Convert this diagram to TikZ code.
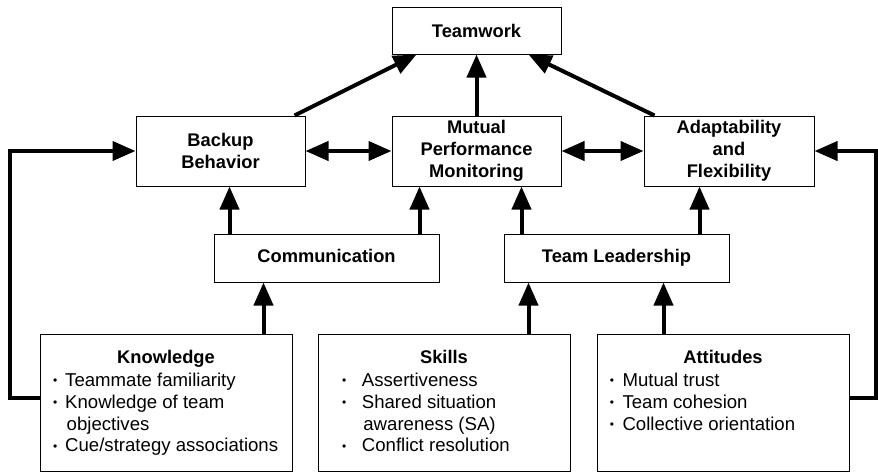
\documentclass[tikz,border=0pt]{standalone}
\usepackage{fontspec}
\setmainfont{Liberation Sans}
\usetikzlibrary{arrows.meta}
\newcommand\mybul{\raisebox{1.8pt}{\fontsize{12}{12}\selectfont •}}
\begin{document}
\begin{tikzpicture}[x=1pt,y=-1pt,
  box/.style={draw, line width=1pt, inner sep=0pt, align=center,
    font=\fontsize{18.3}{22}\selectfont\bfseries},
  onel/.style={text height=13.2pt, text depth=3.9pt},
  ttl/.style={anchor=base, inner sep=0pt, font=\fontsize{18.3}{22}\selectfont\bfseries},
  item/.style={anchor=base west, inner sep=0pt, align=left, font=\fontsize{18.6}{21.7}\selectfont},
  arr/.style={line width=4pt, -{Triangle[length=23pt,width=19pt]}},
  darr/.style={line width=4pt, {Triangle[length=23pt,width=19pt]}-{Triangle[length=23pt,width=19pt]}},
]
\useasboundingbox (0,0) rectangle (878,472);

% top boxes
\node[box, minimum width=169pt, minimum height=47pt] (tw) at (476.5,30.5) {Teamwork};
\node[box, minimum width=169pt, minimum height=70pt] (bb) at (220.5,151) {Backup\\Behavior};
\node[box, minimum width=169pt, minimum height=70pt] (mpm) at (476.5,151) {Mutual\\Performance\\Monitoring};
\node[box, minimum width=170pt, minimum height=70pt] (af) at (729,151) {Adaptability\\and\\Flexibility};
\node[box, onel, minimum width=225pt, minimum height=48pt] (com) at (326.5,258) {Communication};
\node[box, onel, minimum width=225pt, minimum height=48pt] (tl) at (616.5,258) {Team Leadership};

% bottom boxes
\node[box, minimum width=252pt, minimum height=137pt] (kn) at (166,402.5) {};
\node[box, minimum width=252pt, minimum height=137pt] (sk) at (444,402.5) {};
\node[box, minimum width=252pt, minimum height=137pt] (at) at (723,402.5) {};

\node[ttl] (knt) at (166,363.3) {Knowledge};
\node[item] (knl) at (52.9,386.7) {\begin{tabular}[t]{@{}l@{\hspace{7.9pt}}l@{}}
\mybul&Teammate familiarity\\
\mybul&Knowledge of team\\
&\hspace{1.5pt}objectives\\
\mybul&Cue/strategy associations
\end{tabular}};

\node[ttl] (skt) at (444,363.3) {Skills};
\node[item] (skl) at (341.9,386.7) {\begin{tabular}[t]{@{}l@{\hspace{15.6pt}}l@{}}
\mybul&Assertiveness\\
\mybul&Shared situation\\
&\hspace{1.5pt}awareness (SA)\\
\mybul&Conflict resolution
\end{tabular}};

\node[ttl] (att) at (723,363.3) {Attitudes};
\node[item] (atl) at (609.6,386.7) {\begin{tabular}[t]{@{}l@{\hspace{8.5pt}}l@{}}
\mybul&Mutual trust\\
\mybul&Team cohesion\\
\mybul&Collective orientation
\end{tabular}};

% arrows to Teamwork
\draw[arr] ([xshift=-11pt]bb.north east) -- ([xshift=25pt]tw.south west);
\draw[arr] (mpm.north) -- (tw.south);
\draw[arr] ([xshift=11pt]af.north west) -- ([xshift=-33pt]tw.south east);

% double arrows
\draw[darr] (bb.east) -- (mpm.west);
\draw[darr] (mpm.east) -- (af.west);

% communication / leadership up
\coordinate (c1) at ([xshift=16pt]com.north west);
\coordinate (c2) at ([xshift=-20pt]com.north east);
\coordinate (c3) at ([xshift=18pt]tl.north west);
\coordinate (c4) at ([xshift=-30pt]tl.north east);
\draw[arr] (c1) -- (c1 |- bb.south);
\draw[arr] (c2) -- (c2 |- mpm.south);
\draw[arr] (c3) -- (c3 |- mpm.south);
\draw[arr] (c4) -- (c4 |- af.south);

% KSA up
\coordinate (d1) at ([xshift=50pt]com.south west);
\coordinate (d2) at ([xshift=25pt]tl.south west);
\coordinate (d3) at ([xshift=160pt]tl.south west);
\draw[arr] (d1 |- kn.north) -- (d1);
\draw[arr] (d2 |- sk.north) -- (d2);
\draw[arr] (d3 |- at.north) -- (d3);

% feedback loops
\coordinate (lb) at (10,398);
\coordinate (lt) at (10,151);
\coordinate (rb) at (876,398);
\coordinate (rt) at (876,151);
\draw[arr] (lb -| kn.west) -- (lb) -- (lt) -- (bb.west);
\draw[arr] (rb -| at.east) -- (rb) -- (rt) -- (af.east);
\end{tikzpicture}
\end{document}
